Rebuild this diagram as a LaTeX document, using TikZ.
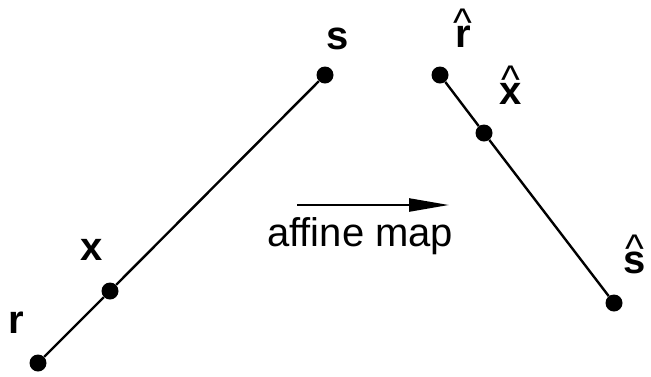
\documentclass[tikz,border=0pt]{standalone}
\usepackage{fontspec}
\setmainfont{Liberation Sans}
\usetikzlibrary{arrows.meta}
\newcommand{\hatted}[1]{\ooalign{\textbf{#1}\cr\hidewidth\raisebox{0.27em}{\mdseries\textasciicircum}\hidewidth\cr}}
\begin{document}
\begin{tikzpicture}[x=1pt,y=-1pt,
  dot/.style={circle,fill=black,inner sep=0pt,minimum size=17pt},
  lab/.style={font=\fontsize{40}{48}\selectfont\bfseries,inner sep=0pt,anchor=base},
  seg/.style={line width=2.4pt},
  maptext/.style={font=\fontsize{40}{48}\selectfont,inner sep=0pt,anchor=base west}]
\useasboundingbox (0,0) rectangle (651,376);
% left segment
\node[dot] (r) at (38,363) {};
\node[dot] (x) at (110,291) {};
\node[dot] (s) at (325,75) {};
\draw[seg] (r) -- (x) -- (s);
\node[lab] (lr) at (16,333) {r};
\node[lab] (lx) at (92,260) {x};
\node[lab] (ls) at (338,49) {s};
% right segment
\node[dot] (rh) at (440,75) {};
\node[dot] (xh) at (484,133) {};
\node[dot] (sh) at (614,303) {};
\draw[seg] (rh) -- (xh) -- (sh);
\node[lab] (lrh) at (463,47) {\hatted{r}};
\node[lab] (lxh) at (511,104) {\hatted{x}};
\node[lab] (lsh) at (635,273) {\hatted{s}};
% arrow
\coordinate (a0) at (297,205);
\coordinate (a1) at (449,205);
\draw[seg,-{Triangle[length=40pt,width=13pt]}] (a0) -- (a1);
\node[maptext] (am) at (267,246) {affine map};
\end{tikzpicture}
\end{document}
